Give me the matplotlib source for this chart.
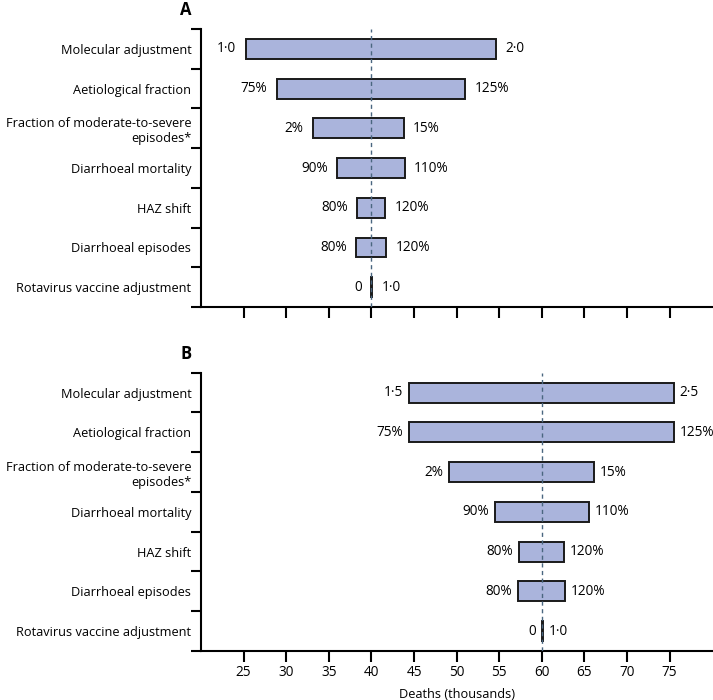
import matplotlib.pyplot as plt

plt.rcParams['font.family'] = ['Open Sans', 'DejaVu Sans']

# parameters, top to bottom
params = ["Molecular adjustment", "Aetiological fraction",
          "Fraction of moderate-to-severe\nepisodes*", "Diarrhoeal mortality",
          "HAZ shift", "Diarrhoeal episodes", "Rotavirus vaccine adjustment"]

# panel A (deaths, thousands)
a_low = [25.25, 28.9, 33.1, 36.0, 38.3, 38.2, 39.98]
a_high = [54.6, 51.0, 43.8, 43.9, 41.6, 41.7, 40.06]
a_base = 40

# panel B (deaths, thousands)
b_low = [44.4, 44.4, 49.1, 54.5, 57.3, 57.2, 60.02]
b_high = [75.5, 75.5, 66.1, 65.5, 62.6, 62.7, 60.1]
b_base = 60

low_labels = ["1·0", "75%", "2%", "90%", "80%", "80%", "0"]
high_labels = ["2·0", "125%", "15%", "110%", "120%", "120%", "1·0"]
b_low_labels = ["1·5", "75%", "2%", "90%", "80%", "80%", "0"]
b_high_labels = ["2·5", "125%", "15%", "110%", "120%", "120%", "1·0"]

xticks = [25, 30, 35, 40, 45, 50, 55, 60, 65, 70, 75]

bar_color = "#aab4dc"
fs = 9.2
fs_num = 9.8

fig = plt.figure(figsize=(7.13, 7.0), dpi=100)
ax_a = fig.add_axes([0.2819, 0.5614, 0.7170, 0.3971])
ax_b = fig.add_axes([0.2819, 0.0700, 0.7170, 0.3976])


def draw_panel(ax, low, high, base, lo_lab, hi_lab, letter, show_xlabels, gap):
    n = len(params)
    ypos = list(range(n))
    widths = [h - l for l, h in zip(low, high)]
    ax.barh(ypos, widths, left=low, height=0.5, color=bar_color,
            edgecolor="#1a1a1a", linewidth=1.4, zorder=2)
    ax.axvline(base, color="#4a6680", linestyle=(0, (3, 2.5)), linewidth=1.0, zorder=3)
    for y, l, h, tl, th in zip(ypos, low, high, lo_lab, hi_lab):
        ax.text(l - gap, y, tl, ha="right", va="center", fontsize=fs_num)
        ax.text(h + gap, y, th, ha="left", va="center", fontsize=fs_num)

    ax.set_xlim(20, 80)
    ax.set_ylim(n - 0.5, -0.5)
    ax.set_yticks(ypos)
    ax.set_yticklabels(params, fontsize=fs)
    ax.set_yticks([i - 0.5 for i in range(n + 1)], minor=True)
    ax.tick_params(axis="y", which="major", length=0, pad=7)
    ax.tick_params(axis="y", which="minor", length=7, width=1.5)
    ax.set_xticks(xticks)
    ax.tick_params(axis="x", length=8, width=1.5, labelsize=fs_num, pad=2)
    if not show_xlabels:
        ax.set_xticklabels([])
    for side in ["top", "right"]:
        ax.spines[side].set_visible(False)
    for side in ["left", "bottom"]:
        ax.spines[side].set_linewidth(1.5)
    for lab in ax.get_yticklabels():
        lab.set_multialignment("right")
    ax.text(-0.03, 1.035, letter, transform=ax.transAxes, ha="center",
            va="bottom", fontsize=12, fontweight="bold")


draw_panel(ax_a, a_low, a_high, a_base, low_labels, high_labels, "A", False, 1.1)
draw_panel(ax_b, b_low, b_high, b_base, b_low_labels, b_high_labels, "B", True, 0.7)
ax_b.set_xlabel("Deaths (thousands)", fontsize=fs, labelpad=6)

fig.savefig("out.png", dpi=100)
